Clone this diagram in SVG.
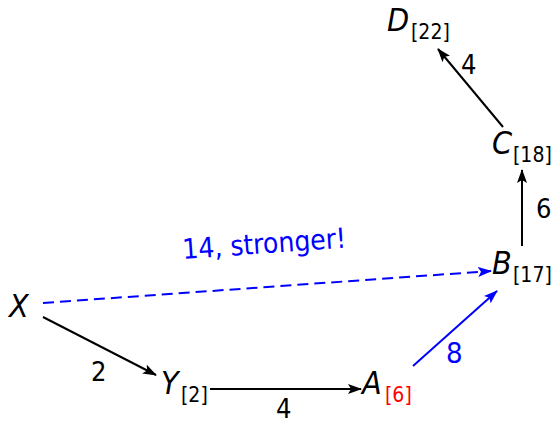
<svg xmlns="http://www.w3.org/2000/svg" width="553" height="423" viewBox="0 0 553 423">
<style>
text{font-family:"DejaVu Sans Condensed","DejaVu Sans",sans-serif;font-stretch:condensed}
.n{font-style:italic;font-size:32px;fill:#000}
.s{font-size:21px;fill:#000}
.l{font-size:27px;fill:#000}
.e{fill:none;stroke:#000;stroke-width:2}
.b{stroke:#0000ff}
</style>
<defs>
<marker id="ak" viewBox="0 0 14 10" refX="13" refY="5" markerWidth="14" markerHeight="10" markerUnits="userSpaceOnUse" orient="auto"><path d="M0,0 L14,5 L0,10 L3,5 Z" fill="#000"/></marker>
<marker id="ab" viewBox="0 0 14 10" refX="13" refY="5" markerWidth="14" markerHeight="10" markerUnits="userSpaceOnUse" orient="auto"><path d="M0,0 L14,5 L0,10 L3,5 Z" fill="#0000ff"/></marker>
</defs>
<g id="connectors">
<path class="e" d="M43,317 L156,375" marker-end="url(#ak)"/>
<path class="e" d="M210,389 L361,389" marker-end="url(#ak)"/>
<path class="e b" d="M413,366 L497,291" marker-end="url(#ab)"/>
<path class="e" d="M522,246 L522,170" marker-end="url(#ak)"/>
<path class="e" d="M503,127 L438,49" marker-end="url(#ak)"/>
<path class="e b" d="M43,303 L491,271" stroke-dasharray="11 6" marker-end="url(#ab)"/>
<text class="l" x="91" y="381">2</text>
<text class="l" x="276" y="418">4</text>
<text class="l" x="446" y="363" style="fill:#0000ff;font-size:29px">8</text>
<text class="l" x="536" y="218">6</text>
<text class="l" x="461" y="74">4</text>
<text class="l" x="183" y="259" style="fill:#0000ff;font-size:28px" transform="rotate(-4 183 259)">14, stronger!</text>
</g>
<g id="X"><text class="n" x="9" y="317">X</text></g>
<g id="Y"><text class="n" x="161" y="394">Y</text><text class="s" x="181" y="402">[2]</text></g>
<g id="A"><text class="n" x="362" y="394">A</text><text class="s" x="385" y="402" style="fill:#ff0000">[6]</text></g>
<g id="B"><text class="n" x="492" y="274">B</text><text class="s" x="513" y="282">[17]</text></g>
<g id="C"><text class="n" x="492" y="154">C</text><text class="s" x="513" y="162">[18]</text></g>
<g id="D"><text class="n" x="387" y="31">D</text><text class="s" x="411" y="39">[22]</text></g>
</svg>
